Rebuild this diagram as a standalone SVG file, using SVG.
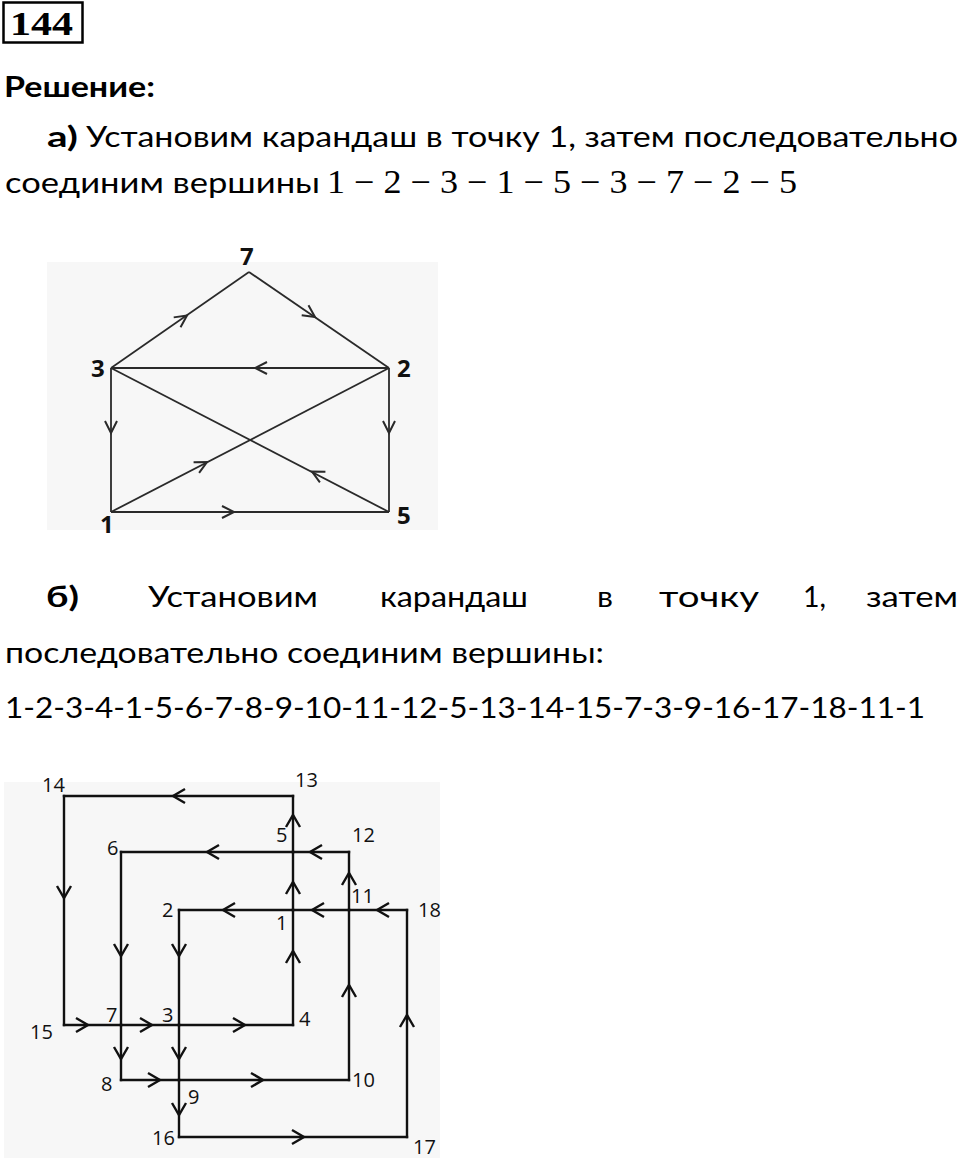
<svg xmlns="http://www.w3.org/2000/svg" xmlns:xlink="http://www.w3.org/1999/xlink" width="960" height="1158" viewBox="0 0 960 1158">
<style>
.t{font-family:Lato,"Open Sans","Liberation Sans",sans-serif;font-size:29px;fill:#000}
.b{font-weight:bold}
.m{font-family:"Liberation Serif",serif;font-size:33px;fill:#000}
.la{font-family:"Open Sans","DejaVu Sans",sans-serif;font-size:24px;font-weight:bold;fill:#111}
.lb{font-family:"Open Sans","DejaVu Sans",sans-serif;font-size:20px;fill:#111}
.ea{stroke:#2a2a2a;stroke-width:1.8;fill:none}
.eb{stroke:#111;stroke-width:2.4;fill:none;stroke-linecap:square}
</style>
<defs>
<path id="cha" d="M-12,-6 L0,0 L-12,6" fill="none" stroke="#2a2a2a" stroke-width="2"/>
<path id="chb" d="M-12,-7 L0,0 L-12,7" fill="none" stroke="#111" stroke-width="2.4"/>
</defs>
<rect width="960" height="1158" fill="#fff"/>
<g id="header">
<rect x="3.5" y="2.5" width="79" height="40" fill="none" stroke="#000" stroke-width="2.5"/>
<text x="10" y="35" font-family="Liberation Serif,serif" font-weight="bold" font-size="34" textLength="63" lengthAdjust="spacingAndGlyphs">144</text>
<text class="t b" x="4" y="97" textLength="151" lengthAdjust="spacingAndGlyphs">Решение:</text>
<text class="t b" x="47" y="147" textLength="31" lengthAdjust="spacingAndGlyphs">а)</text>
<text class="t" x="86" y="147" textLength="872" lengthAdjust="spacingAndGlyphs">Установим карандаш в точку 1, затем последовательно</text>
<text class="t" x="5" y="193" textLength="315" lengthAdjust="spacingAndGlyphs">соединим вершины</text>
<text class="m" x="327" y="193" textLength="470" lengthAdjust="spacingAndGlyphs">1 − 2 − 3 − 1 − 5 − 3 − 7 − 2 − 5</text>
</g>
<g id="text-b">
<text class="t b" x="46" y="607" textLength="33" lengthAdjust="spacingAndGlyphs">б)</text>
<text class="t" x="148" y="607" textLength="170" lengthAdjust="spacingAndGlyphs">Установим</text>
<text class="t" x="380" y="607" textLength="148" lengthAdjust="spacingAndGlyphs">карандаш</text>
<text class="t" x="597" y="607" textLength="16" lengthAdjust="spacingAndGlyphs">в</text>
<text class="t" x="659" y="607" textLength="100" lengthAdjust="spacingAndGlyphs">точку</text>
<text class="t" x="803" y="607" textLength="23" lengthAdjust="spacingAndGlyphs">1,</text>
<text class="t" x="866" y="607" textLength="92" lengthAdjust="spacingAndGlyphs">затем</text>
<text class="t" x="5" y="663" textLength="599" lengthAdjust="spacingAndGlyphs">последовательно соединим вершины:</text>
<text class="t" x="5" y="718" textLength="920" lengthAdjust="spacingAndGlyphs">1-2-3-4-1-5-6-7-8-9-10-11-12-5-13-14-15-7-3-9-16-17-18-11-1</text>
</g>
<rect x="47" y="262" width="391" height="268" fill="#f7f7f7"/>
<rect x="4" y="782" width="436" height="376" fill="#f7f7f7"/>
<g id="connectors-a">
<line class="ea" x1="111" y1="512" x2="389" y2="368"/>
<line class="ea" x1="389" y1="368" x2="111" y2="368"/>
<line class="ea" x1="111" y1="368" x2="111" y2="512"/>
<line class="ea" x1="111" y1="512" x2="389" y2="512"/>
<line class="ea" x1="389" y1="512" x2="111" y2="368"/>
<line class="ea" x1="111" y1="368" x2="249" y2="272"/>
<line class="ea" x1="249" y1="272" x2="389" y2="368"/>
<line class="ea" x1="389" y1="368" x2="389" y2="512"/>
<use xlink:href="#cha" transform="translate(187,315.5) rotate(-34.6)"/>
<use xlink:href="#cha" transform="translate(315,317) rotate(34.3)"/>
<use xlink:href="#cha" transform="translate(255,368) rotate(180)"/>
<use xlink:href="#cha" transform="translate(111,433) rotate(90)"/>
<use xlink:href="#cha" transform="translate(389,433) rotate(90)"/>
<use xlink:href="#cha" transform="translate(207,462) rotate(-27.4)"/>
<use xlink:href="#cha" transform="translate(312,471.5) rotate(207.4)"/>
<use xlink:href="#cha" transform="translate(234,512)"/>
</g>
<g id="a7"><text class="la" x="240" y="265">7</text></g>
<g id="a3"><text class="la" x="91" y="377">3</text></g>
<g id="a2"><text class="la" x="397" y="377">2</text></g>
<g id="a1"><text class="la" x="100" y="533">1</text></g>
<g id="a5"><text class="la" x="397" y="524">5</text></g>
<g id="connectors-b">
<line class="eb" x1="293" y1="910" x2="179" y2="910"/>
<line class="eb" x1="179" y1="910" x2="179" y2="1025"/>
<line class="eb" x1="179" y1="1025" x2="293" y2="1025"/>
<line class="eb" x1="293" y1="1025" x2="293" y2="910"/>
<line class="eb" x1="293" y1="910" x2="293" y2="852"/>
<line class="eb" x1="293" y1="852" x2="121" y2="852"/>
<line class="eb" x1="121" y1="852" x2="121" y2="1025"/>
<line class="eb" x1="121" y1="1025" x2="121" y2="1080"/>
<line class="eb" x1="121" y1="1080" x2="179" y2="1080"/>
<line class="eb" x1="179" y1="1080" x2="349" y2="1080"/>
<line class="eb" x1="349" y1="1080" x2="349" y2="910"/>
<line class="eb" x1="349" y1="910" x2="349" y2="852"/>
<line class="eb" x1="349" y1="852" x2="293" y2="852"/>
<line class="eb" x1="293" y1="852" x2="293" y2="796"/>
<line class="eb" x1="293" y1="796" x2="64" y2="796"/>
<line class="eb" x1="64" y1="796" x2="64" y2="1025"/>
<line class="eb" x1="64" y1="1025" x2="121" y2="1025"/>
<line class="eb" x1="121" y1="1025" x2="179" y2="1025"/>
<line class="eb" x1="179" y1="1025" x2="179" y2="1080"/>
<line class="eb" x1="179" y1="1080" x2="179" y2="1137"/>
<line class="eb" x1="179" y1="1137" x2="407" y2="1137"/>
<line class="eb" x1="407" y1="1137" x2="407" y2="910"/>
<line class="eb" x1="407" y1="910" x2="349" y2="910"/>
<line class="eb" x1="349" y1="910" x2="293" y2="910"/>
<use xlink:href="#chb" transform="translate(173,796) rotate(180)"/>
<use xlink:href="#chb" transform="translate(293,815) rotate(-90)"/>
<use xlink:href="#chb" transform="translate(207,852) rotate(180)"/>
<use xlink:href="#chb" transform="translate(310,852) rotate(180)"/>
<use xlink:href="#chb" transform="translate(349,873) rotate(-90)"/>
<use xlink:href="#chb" transform="translate(293,882) rotate(-90)"/>
<use xlink:href="#chb" transform="translate(64,898) rotate(90)"/>
<use xlink:href="#chb" transform="translate(223,910) rotate(180)"/>
<use xlink:href="#chb" transform="translate(312,910) rotate(180)"/>
<use xlink:href="#chb" transform="translate(377,910) rotate(180)"/>
<use xlink:href="#chb" transform="translate(121,956) rotate(90)"/>
<use xlink:href="#chb" transform="translate(179,956) rotate(90)"/>
<use xlink:href="#chb" transform="translate(293,951) rotate(-90)"/>
<use xlink:href="#chb" transform="translate(349,985) rotate(-90)"/>
<use xlink:href="#chb" transform="translate(407,1015) rotate(-90)"/>
<use xlink:href="#chb" transform="translate(88,1025)"/>
<use xlink:href="#chb" transform="translate(152,1025)"/>
<use xlink:href="#chb" transform="translate(245,1025)"/>
<use xlink:href="#chb" transform="translate(121,1059) rotate(90)"/>
<use xlink:href="#chb" transform="translate(179,1059) rotate(90)"/>
<use xlink:href="#chb" transform="translate(160,1080)"/>
<use xlink:href="#chb" transform="translate(263,1080)"/>
<use xlink:href="#chb" transform="translate(179,1115) rotate(90)"/>
<use xlink:href="#chb" transform="translate(304,1137)"/>
</g>
<g id="b14"><text class="lb" x="42" y="792">14</text></g>
<g id="b13"><text class="lb" x="295" y="787">13</text></g>
<g id="b5"><text class="lb" x="276" y="842">5</text></g>
<g id="b12"><text class="lb" x="352" y="842">12</text></g>
<g id="b6"><text class="lb" x="107" y="855">6</text></g>
<g id="b11"><text class="lb" x="351" y="903">11</text></g>
<g id="b18"><text class="lb" x="418" y="917">18</text></g>
<g id="b2"><text class="lb" x="162" y="917">2</text></g>
<g id="b1"><text class="lb" x="276" y="930">1</text></g>
<g id="b15"><text class="lb" x="30" y="1039">15</text></g>
<g id="b7"><text class="lb" x="106" y="1022">7</text></g>
<g id="b3"><text class="lb" x="162" y="1022">3</text></g>
<g id="b4"><text class="lb" x="299" y="1026">4</text></g>
<g id="b8"><text class="lb" x="101" y="1091">8</text></g>
<g id="b10"><text class="lb" x="352" y="1087">10</text></g>
<g id="b9"><text class="lb" x="188" y="1104">9</text></g>
<g id="b16"><text class="lb" x="152" y="1145">16</text></g>
<g id="b17"><text class="lb" x="413" y="1154">17</text></g>
</svg>
